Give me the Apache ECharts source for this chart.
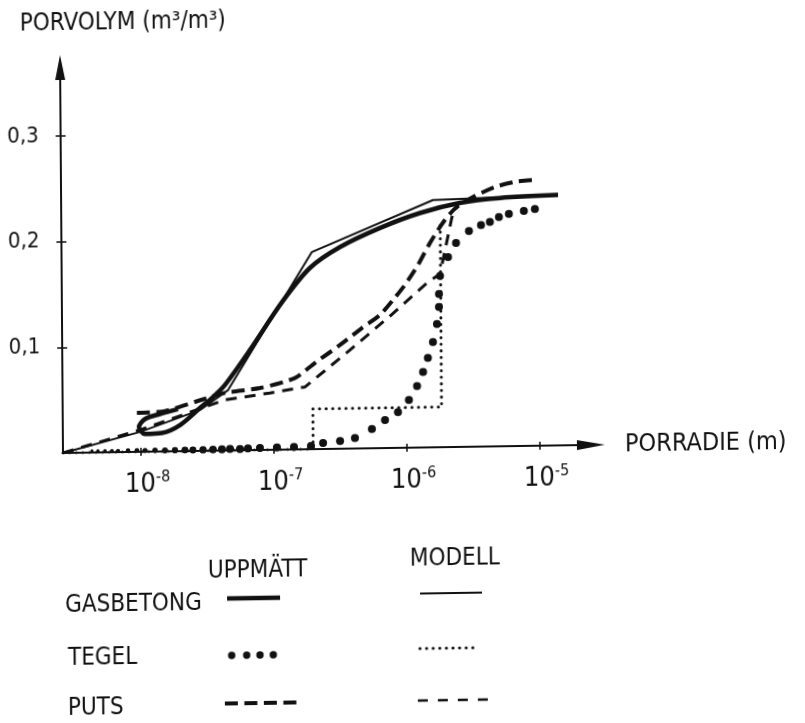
<!DOCTYPE html>
<html>
<head>
<meta charset="utf-8">
<script src="https://cdn.jsdelivr.net/npm/echarts@6/dist/echarts.min.js"></script>
<style>
  html, body { margin: 0; padding: 0; background: #fff; }
  /* the sheet is slightly skewed: both axes lean a little */
  #chart {
    width: 805px; height: 723px;
    transform: matrix(1, -0.0153, 0.0075, 1, 0, 0);
    transform-origin: 63px 453px;
  }
</style>
</head>
<body>
<div id="chart"></div>
<script>
// Pore radius is stored as log10(r / m); pore volume in m3/m3.

// GASBETONG, measured
const gasMeasLogR = [-7.719, -7.855, -7.967, -8.013, -7.968, -7.841, -7.704, -7.553, -7.455, -7.364,
  -7.174, -6.930, -6.719, -6.491, -6.190, -5.888, -5.587, -5.286, -4.849];
const gasMeasVol = [0.0399, 0.0355, 0.0310, 0.0235, 0.0168, 0.0175, 0.0248, 0.0406, 0.0508, 0.0621,
  0.0948, 0.1397, 0.1715, 0.1909, 0.2083, 0.2219, 0.2309, 0.2350, 0.2370];

// GASBETONG, model
const gasModelLogR = [-8.586, -8.006, -7.554, -7.341, -6.703, -5.790, -4.849];
const gasModelVol = [0, 0.0188, 0.0387, 0.0572, 0.1866, 0.2340, 0.2370];

// TEGEL, measured
const tegelMeasLogR = [-8.368, -8.323, -8.270, -8.218, -8.172, -8.097, -8.030, -7.969, -7.894, -7.819,
  -7.744, -7.669, -7.609, -7.533, -7.458, -7.391, -7.330, -7.255, -7.195, -7.105,
  -6.977, -6.849, -6.721, -6.630, -6.502, -6.390, -6.262, -6.163, -6.065, -5.982,
  -5.920, -5.874, -5.837, -5.798, -5.767, -5.751, -5.750, -5.741, -5.680, -5.619,
  -5.521, -5.430, -5.363, -5.295, -5.220, -5.107, -5.024];
const tegelMeasVol = [0.0015, 0.0014, 0.0013, 0.0012, 0.0011, 0.0015, 0.0013, 0.0012, 0.0011, 0.0010,
  0.0010, 0.0010, 0.0010, 0.0010, 0.0011, 0.0011, 0.0014, 0.0013, 0.0016, 0.0018,
  0.0021, 0.0024, 0.0030, 0.0057, 0.0074, 0.0100, 0.0182, 0.0265, 0.0339, 0.0452,
  0.0583, 0.0715, 0.0846, 0.0996, 0.1167, 0.1328, 0.1451, 0.1620, 0.1799, 0.1930,
  0.2042, 0.2097, 0.2124, 0.2170, 0.2197, 0.2223, 0.2241];

// TEGEL, model (stepwise)
const tegelModelLogR = [-8.586, -6.705, -6.705, -5.737, -5.737];
const tegelModelVol = [0, 0, 0.038, 0.038, 0.212];

// PUTS, measured
const putsMeasLogR = [-8.028, -7.817, -7.591, -7.365, -7.101, -6.838, -6.686, -6.497, -6.331, -6.195,
  -6.096, -6.006, -5.906, -5.815, -5.701, -5.610, -5.474, -5.323, -5.173, -5.022];
const putsMeasVol = [0.0368, 0.0382, 0.0464, 0.0545, 0.0586, 0.0676, 0.0816, 0.0982, 0.1140, 0.1260,
  0.1400, 0.1540, 0.1728, 0.1934, 0.2150, 0.2271, 0.2372, 0.2454, 0.2500, 0.2516];

// PUTS, model
const putsModelLogR = [-8.586, -8.006, -7.365, -7.027, -6.762, -6.422, -6.119, -5.832, -5.741, -5.648, -5.602];
const putsModelVol = [0, 0.0207, 0.0479, 0.0538, 0.0590, 0.0933, 0.1249, 0.1565, 0.1639, 0.2177, 0.2290];

// axis ticks
const xTickExp = [-8, -7, -6, -5];
const yTickVals = [0.1, 0.2, 0.3];

const INK = '#111';
const pairs = (xs, ys) => xs.map((x, i) => [x, ys[i]]);

const X_MIN = -8.586, X_MAX = -4.616, Y_MIN = 0, Y_MAX = 0.3648;

const styleGasMeas = { color: INK, width: 4.5 };
const styleGasModel = { color: INK, width: 2 };
const styleTegelModel = { color: INK, width: 3, type: [0.1, 6.5], cap: 'round' };
const stylePutsMeas = { color: INK, width: 4, type: [13, 6.5] };
const stylePutsModel = { color: INK, width: 3, type: [11, 8] };

const chart = echarts.init(document.getElementById('chart'), null, { renderer: 'canvas' });

const LETTER = '"DejaVu Sans Condensed", "DejaVu Sans", sans-serif';
const NARROW = '"Liberation Sans Narrow", "DejaVu Sans Condensed", sans-serif';

function txt(text, x, y, size) {
  return {
    type: 'text', x: x, y: y, silent: true,
    style: {
      text: text, fill: INK, font: size + 'px ' + LETTER,
      textAlign: 'left', align: 'left', textVerticalAlign: 'middle', verticalAlign: 'middle'
    }
  };
}
function seg(x1, x2, y, st) {
  return {
    type: 'line', silent: true,
    shape: { x1: x1, y1: y, x2: x2, y2: y },
    style: {
      stroke: INK, lineWidth: st.width,
      lineDash: Array.isArray(st.type) ? st.type : null,
      lineCap: st.cap || 'butt'
    }
  };
}
function dot(x, y, r) {
  return { type: 'circle', silent: true, shape: { cx: x, cy: y, r: r }, style: { fill: INK } };
}

const option = {
  animation: false,
  backgroundColor: '#fff',
  grid: { left: 63, top: 67.5, width: 528, height: 385.5, containLabel: false, outerBoundsMode: 'none' },
  xAxis: [
    {
      type: 'value', min: X_MIN, max: X_MAX, position: 'bottom',
      axisLine: { show: true, onZero: false, symbol: ['none', 'triangle'], symbolSize: [10, 28],
        lineStyle: { color: INK, width: 2 } },
      axisTick: { show: true, customValues: xTickExp, length: 4, lineStyle: { color: INK, width: 1.5 } },
      axisLabel: {
        customValues: xTickExp, margin: 18, padding: [0, 0, 0, 13],
        formatter: v => '{b|10}{s|' + v + '}',
        rich: {
          b: { fontFamily: NARROW, fontSize: 27, color: INK, lineHeight: 30 },
          s: { fontFamily: NARROW, fontSize: 16, color: INK, lineHeight: 16, verticalAlign: 'top' }
        }
      },
      splitLine: { show: false },
      name: 'PORRADIE (m)', nameLocation: 'end', nameGap: 34,
      nameTextStyle: { fontFamily: LETTER, fontSize: 25, color: INK, align: 'left',
        verticalAlign: 'middle', padding: [0, 0, 10, 0] }
    },
    {
      type: 'value', min: X_MIN, max: X_MAX, position: 'bottom',
      axisLine: { show: false, onZero: false },
      axisTick: { show: true, inside: true, customValues: xTickExp, length: 4, lineStyle: { color: INK, width: 1.5 } },
      axisLabel: { show: false }, splitLine: { show: false }
    }
  ],
  yAxis: [
    {
      type: 'value', min: Y_MIN, max: Y_MAX, position: 'left',
      axisLine: { show: true, onZero: false, symbol: ['none', 'triangle'], symbolSize: [10, 25],
        lineStyle: { color: INK, width: 2 } },
      axisTick: { show: true, customValues: yTickVals, length: 5, lineStyle: { color: INK, width: 1.5 } },
      axisLabel: {
        customValues: yTickVals, margin: 22, padding: [5, 0, 0, 0],
        fontFamily: LETTER, fontSize: 22, color: INK,
        formatter: v => v.toFixed(1).replace('.', ',')
      },
      splitLine: { show: false }
    },
    {
      type: 'value', min: Y_MIN, max: Y_MAX, position: 'left',
      axisLine: { show: false, onZero: false },
      axisTick: { show: true, inside: true, customValues: yTickVals, length: 5, lineStyle: { color: INK, width: 1.5 } },
      axisLabel: { show: false }, splitLine: { show: false }
    }
  ],
  series: [
    { name: 'TEGEL modell', type: 'line', data: pairs(tegelModelLogR, tegelModelVol),
      symbol: 'none', lineStyle: styleTegelModel, z: 2 },
    { name: 'PUTS modell', type: 'line', data: pairs(putsModelLogR, putsModelVol),
      symbol: 'none', lineStyle: stylePutsModel, z: 3 },
    { name: 'PUTS uppmätt', type: 'line', data: pairs(putsMeasLogR, putsMeasVol),
      symbol: 'none', smooth: 0.25, lineStyle: stylePutsMeas, z: 3 },
    { name: 'GASBETONG modell', type: 'line', data: pairs(gasModelLogR, gasModelVol),
      symbol: 'none', lineStyle: styleGasModel, z: 4 },
    { name: 'GASBETONG uppmätt', type: 'line', data: pairs(gasMeasLogR, gasMeasVol),
      symbol: 'none', smooth: 0.3, lineStyle: styleGasMeas, z: 5 },
    { name: 'TEGEL uppmätt', type: 'scatter', data: pairs(tegelMeasLogR, tegelMeasVol),
      symbol: 'circle', itemStyle: { color: INK, opacity: 1 },
      symbolSize: v => Math.min(8, Math.max(3, 3 + (v[0] + 8.4) * 5)), z: 6 }
  ],
  graphic: [
    txt('PORVOLYM (m³/m³)', 23, 24, 24),
    // key: measured / model columns
    txt('UPPMÄTT', 207, 574, 24),
    txt('MODELL', 409, 564.5, 24),
    txt('GASBETONG', 64, 606, 24),
    seg(226, 279, 601, styleGasMeas),
    seg(419, 481, 599, styleGasModel),
    txt('TEGEL', 66.5, 659, 24),
    dot(230.2, 658, 3.7), dot(245.2, 658, 3.7), dot(258.5, 658, 3.7), dot(271.8, 658, 3.7),
    seg(418.5, 477, 654, styleTegelModel),
    txt('PUTS', 66, 708.5, 24),
    seg(223, 295, 706, stylePutsMeas),
    seg(416, 486, 706, { color: INK, width: 2.5, type: [10, 10] })
  ]
};

chart.setOption(option);
</script>
</body>
</html>
